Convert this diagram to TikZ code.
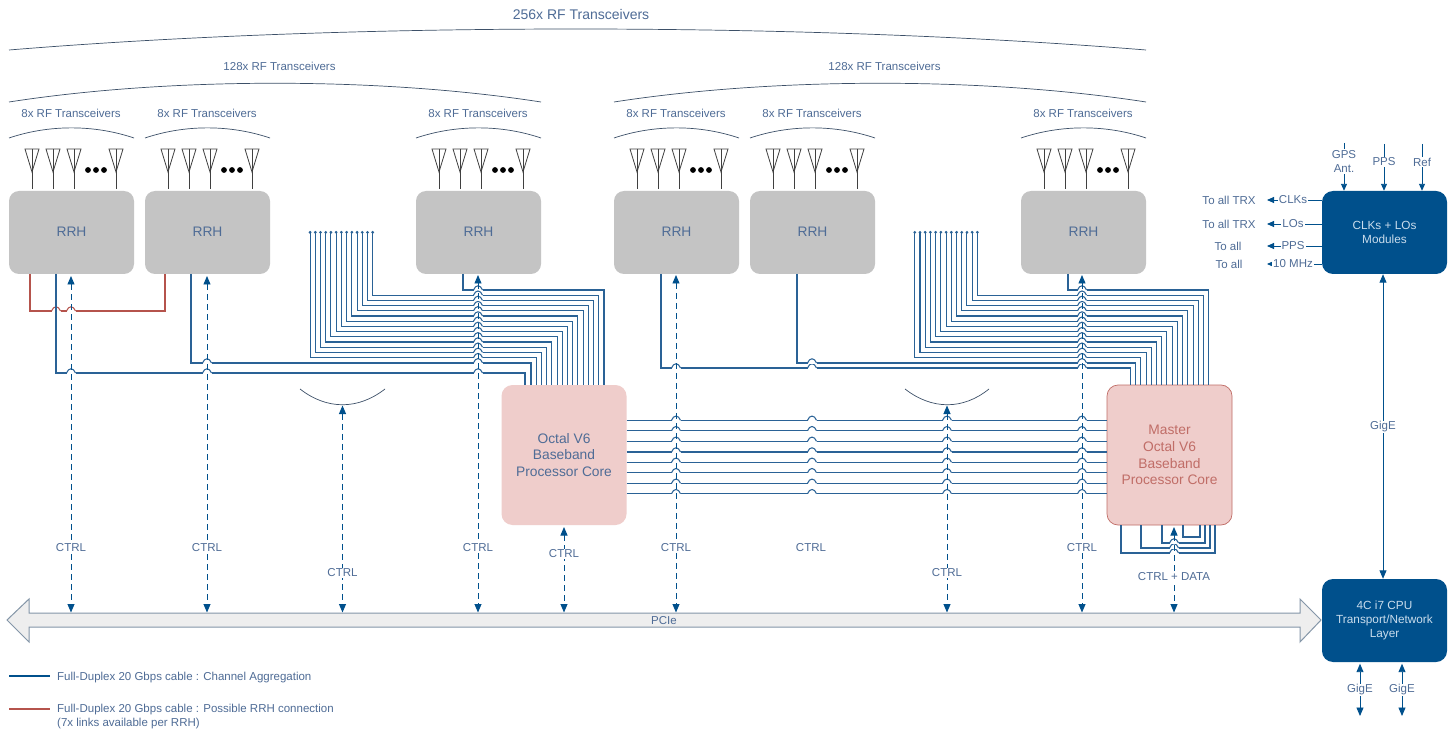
\documentclass[tikz,border=0pt]{standalone}
\usepackage{fontspec}
\setmainfont{Liberation Sans}
\usetikzlibrary{arrows.meta}
\definecolor{txt}{HTML}{4F6C96}
\definecolor{wire}{HTML}{2A6296}
\definecolor{deep}{HTML}{00508C}
\definecolor{redw}{HTML}{B5534C}
\definecolor{rrhg}{HTML}{C4C4C4}
\definecolor{pinkf}{HTML}{EFCDCB}
\definecolor{busf}{HTML}{EEEEEE}
\definecolor{busd}{HTML}{8496A8}
\definecolor{clktxt}{HTML}{C9DCEC}
\definecolor{bracec}{HTML}{3D5068}
\tikzset{
  lab/.style={font=\fontsize{11.5}{14}\selectfont,text=txt,align=center,inner sep=1pt},
  labw/.style={lab,fill=white},
  biglab/.style={font=\fontsize{13.8}{16.7}\selectfont,text=txt,align=center},
  rrhbox/.style={fill=rrhg,rounded corners=10pt,minimum width=125pt,minimum height=83pt,inner sep=0pt,biglab},
  corebox/.style={fill=pinkf,rounded corners=11pt,minimum width=125pt,minimum height=140pt,inner sep=0pt,biglab},
  darkbox/.style={fill=deep,rounded corners=11pt,minimum width=125pt,minimum height=83pt,inner sep=0pt,
     font=\fontsize{11.8}{14.3}\selectfont,text=clktxt,align=center},
  cable/.style={draw=wire,line width=1.05pt},
  redcable/.style={draw=redw,line width=1.05pt},
  brace/.style={draw=bracec,line width=.7pt},
  ant/.style={draw=black!75,line width=.8pt},
  tri/.style={{Triangle[length=8.5pt,width=7pt]}-{Triangle[length=8.5pt,width=7pt]}},
  trione/.style={-{Triangle[length=7pt,width=6pt]}},
  ctrlline/.style={draw=wire,line width=.95pt,dash pattern=on 6pt off 4pt,tri,color=deep},
  solidl/.style={draw=deep!85!white,line width=.95pt,color=deep},
}
\newcommand\hop[2]{%
  \draw[white,line width=2.4pt] (#1-4.5,#2) -- (#1+4.5,#2);
  \draw[cable] (#1-4.5,#2) .. controls (#1-2.5,#2-5.6) and (#1+2.5,#2-5.6) .. (#1+4.5,#2);}
\newcommand\redhop[2]{%
  \draw[white,line width=2.4pt] (#1-4.5,#2) -- (#1+4.5,#2);
  \draw[redcable] (#1-4.5,#2) .. controls (#1-2.5,#2-5.6) and (#1+2.5,#2-5.6) .. (#1+4.5,#2);}
\newcommand\rrhunit[2]{%
  \node[rrhbox] (rrh#1) at (#2+62.5,232.5) {\raisebox{1pt}{RRH}};
  \node[lab] (lab#1) at (#2+62,113) {8x RF Transceivers};
  \draw[brace] (#2,138) .. controls (#2+40,124.5) and (#2+85,124.5) .. (#2+125,138);
  \foreach \d in {23,44,65,107}{
    \draw[ant] (#2+\d-7,149) -- (#2+\d+7,149) -- (#2+\d,172) -- cycle;
    \draw[ant] (#2+\d,149) -- (#2+\d,189);
  }
  \foreach \d in {79,87,95}{\fill[black] (#2+\d,170) circle (2.9pt);}
}
\newcommand\bundle[2]{%
  \foreach \k in {1,...,13}{
    \pgfmathsetmacro\ax{#2+372.7-5.22*(\k-1)}
    \pgfmathsetmacro\hy{290+5.2*\k}
    \pgfmathsetmacro\rx{#2+604-5.22*\k}
    \coordinate (#1a\k) at (\ax,231);
    \coordinate (#1h\k) at (\rx,\hy);
    \coordinate (#1o\k) at (\rx,385);
    \draw[cable,{Circle[length=2.6pt]}-] (#1a\k) |- (#1h\k) -- (#1o\k);
  }
}
\newcommand\hopsbundle[1]{%
  \foreach \k in {0,...,14}{
    \pgfmathsetmacro\hy{290+5.2*\k}
    \hop{#1}{\hy}
  }
}
\begin{document}
\begin{tikzpicture}[x=1pt,y=-1pt]
\useasboundingbox[fill=white] (0,0) rectangle (1453,735);
\node[font=\fontsize{14}{16}\selectfont,text=txt] (t256) at (581,14) {256x RF Transceivers};
\draw[brace] (9,50) .. controls (350,22) and (800,22) .. (1146,50);
\node[lab] (t128a) at (279.5,66) {128x RF Transceivers};
\draw[brace] (9,102) .. controls (170,77) and (380,77) .. (541,102);
\node[lab] (t128b) at (884.5,66) {128x RF Transceivers};
\draw[brace] (614,102) .. controls (775,77) and (985,77) .. (1146,102);
\rrhunit{1}{9}
\rrhunit{2}{145}
\rrhunit{3}{416}
\rrhunit{4}{614}
\rrhunit{5}{750}
\rrhunit{6}{1021}
\node[corebox] (octal) at (564,455) {Octal V6\\Baseband\\Processor Core};
\node[corebox,draw=redw!85!white,line width=.7pt,text=redw!85!white,minimum width=125pt] (master) at (1169.5,455) {Master\\Octal V6\\Baseband\\Processor Core};
\draw[brace] (300,389) .. controls (327,410) and (358,410) .. (385,389);
\draw[brace] (905,389) .. controls (932,410) and (963,410) .. (989,389);
\coordinate (r1) at (30,274);
\coordinate (r2) at (165,274);
\draw[redcable] (r1) |- (r2 |- 0,311) -- (r2);
\redhop{56}{311}
\redhop{71}{311}
\coordinate (c1) at (56,274);
\coordinate (c1o) at (525,385);
\draw[cable] (c1) |- (525,373) -- (c1o);
\coordinate (c2) at (191,274);
\coordinate (c2o) at (531,385);
\draw[cable] (c2) |- (531,363) -- (c2o);
\coordinate (c3) at (463,274);
\coordinate (c3o) at (604,385);
\draw[cable] (c3) |- (604,290) -- (c3o);
\bundle{A}{0}
\hop{71}{373}
\hop{207}{373}
\hop{207}{363}
\hop{478}{373}
\hopsbundle{478}
\coordinate (c4) at (661,274);
\coordinate (c4o) at (1130.4,385);
\draw[cable] (c4) |- (1130.4,368) -- (c4o);
\coordinate (c5) at (797,274);
\coordinate (c5o) at (1135.7,385);
\draw[cable] (c5) |- (1135.7,363) -- (c5o);
\coordinate (c6) at (1068,274);
\coordinate (c6o) at (1208.7,385);
\draw[cable] (c6) |- (1208.7,290) -- (c6o);
\bundle{B}{604.7}
\hop{676}{368}
\hop{812}{368}
\hop{812}{363}
\hop{1082}{368}
\hopsbundle{1082}
\foreach \y in {420.3,430.7,441.3,452,462.3,472.7,483.3,493.7}{
  \draw[cable] (octal.east |- 0,\y) -- (master.west |- 0,\y);
  \foreach \x in {676,812,947,1082}{\hop{\x}{\y}}
}
\coordinate (m1a) at (1121,525);\coordinate (m1b) at (1215,525);
\coordinate (m2a) at (1141,525);\coordinate (m2b) at (1210,525);
\coordinate (m3a) at (1162,525);\coordinate (m3b) at (1205,525);
\coordinate (m4a) at (1183,525);\coordinate (m4b) at (1200,525);
\draw[cable] (m1a) |- (1215,553) -- (m1b);
\draw[cable] (m2a) |- (1210,548) -- (m2b);
\draw[cable] (m3a) |- (1205,543) -- (m3b);
\draw[cable] (m4a) |- (1200,537) -- (m4b);
\hop{1174}{553}
\hop{1174}{548}
\hop{1174}{543}
\draw[fill=busf,draw=busd,line width=1pt,line join=miter] (7,620) -- (29,599) -- (29,613) -- (1300,613) -- (1300,599) -- (1321,620) -- (1300,642) -- (1300,627) -- (29,627) -- (29,642) -- cycle;
\node[lab] (pcie) at (664,621) {PCIe};
\foreach \i/\x/\t/\ly/\s in {a/71/276/548/CTRL,b/207/276/548/CTRL,c/342.5/405.5/573/CTRL,d/478/275/548/CTRL,e/564/527/554/CTRL,f/676/275/548/CTRL,g/947/405.5/573/CTRL,h/1082/275/548/CTRL,i/1174/527/577/CTRL + DATA}{
  \coordinate (top\i) at (\x,\t);
  \coordinate (bus\i) at (\x,612.5);
  \draw[ctrlline] (top\i) -- (bus\i);
  \node[labw] (lbl\i) at (\x,\ly) {\s};
}
\node[lab] (ctrlfree) at (811,548) {CTRL};
\node[darkbox] (clk) at (1384.5,232.5) {CLKs + LOs\\Modules};
\node[darkbox] (cpu) at (1384.5,620.5) {\raisebox{-1pt}{4C i7 CPU}\\\raisebox{-1pt}{Transport/Network}\\\raisebox{-1pt}{Layer}};
\draw[solidl,tri] (clk.south -| 1383,0) -- (cpu.north -| 1383,0);
\node[labw] (gig) at (1383,427) {GigE};
\coordinate (gpsin) at (1344,143);
\coordinate (ppsin) at (1384,144);
\coordinate (refin) at (1422,144);
\draw[solidl,trione] (gpsin) -- (gpsin |- clk.north);
\draw[solidl,trione] (ppsin) -- (ppsin |- clk.north);
\draw[solidl,trione] (refin) -- (refin |- clk.north);
\node[labw] (gps) at (1344,161.5) {GPS\\Ant.};
\node[labw] (pps) at (1384,162) {PPS};
\node[labw] (ref) at (1422,162) {Ref};
\foreach \i/\y/\s/\ds/\lx in {1/200/CLKs/To all TRX/1229,2/224/LOs/To all TRX/1229,3/246/PPS/To all/1228,4/264/10 MHz/To all/1229}{
  \coordinate (out\i) at (1267,\y);
  \draw[solidl,trione] (clk.west |- out\i) -- (out\i);
  \node[labw] (sig\i) at (1293,\y) {\s};
  \node[lab] (dst\i) at (\lx,\y+0.8) {\ds};
}
\coordinate (g1) at (1360,716);
\coordinate (g2) at (1402,716);
\draw[solidl,tri] (g1 |- cpu.south) ++(0,1.5) -- (g1);
\draw[solidl,tri] (g2 |- cpu.south) ++(0,1.5) -- (g2);
\node[labw] (g1l) at (1360,690) {GigE};
\node[labw] (g2l) at (1402,690) {GigE};
\coordinate (la) at (9,676);\coordinate (lb) at (50,676);
\coordinate (lc) at (9,709);\coordinate (ld) at (50,709);
\draw[cable,draw=deep] (la) -- (lb);
\draw[redcable] (lc) -- (ld);
\node[lab,anchor=west,font=\fontsize{11.5}{14}\selectfont] (lt1) at (56,678) {Full-Duplex 20 Gbps cable : Channel Aggregation};
\node[lab,anchor=north west,align=left,font=\fontsize{11.5}{14}\selectfont] (lt2) at (56,702.5) {Full-Duplex 20 Gbps cable : Possible RRH connection\\(7x links available per RRH)};
\end{tikzpicture}
\end{document}
